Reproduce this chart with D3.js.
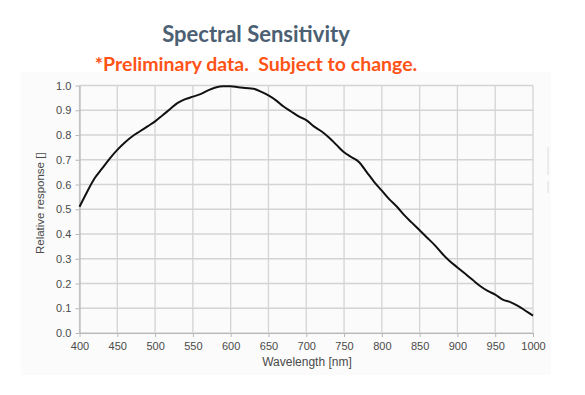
<!DOCTYPE html>
<html><head><meta charset="utf-8">
<script src="https://cdn.jsdelivr.net/npm/d3@7"></script>
<style>body{margin:0;background:#fff;}svg{display:block;}</style>
</head><body>
<script>
const title = "Spectral Sensitivity";
const subtitle = "*Preliminary data.  Subject to change.";
const xLabel = "Wavelength [nm]";
const yLabel = "Relative response []";
const wavelengths = [400,410,420,430,440,450,460,470,480,490,500,510,520,530,540,550,560,570,580,590,600,610,620,630,640,650,660,670,680,690,700,710,720,730,740,750,760,770,780,790,800,810,820,830,840,850,860,870,880,890,900,910,920,930,940,950,960,970,980,990,1000];
const response = [0.51,0.57,0.625,0.665,0.705,0.74,0.77,0.795,0.815,0.835,0.855,0.88,0.905,0.93,0.945,0.955,0.965,0.98,0.992,0.997,0.997,0.993,0.99,0.987,0.975,0.96,0.94,0.915,0.895,0.875,0.86,0.835,0.815,0.79,0.76,0.73,0.71,0.69,0.65,0.61,0.575,0.54,0.51,0.475,0.445,0.415,0.385,0.355,0.32,0.29,0.265,0.24,0.215,0.19,0.17,0.155,0.135,0.125,0.11,0.09,0.07];
const xTicks = [400,450,500,550,600,650,700,750,800,850,900,950,1000];
const yTicks = [0,0.1,0.2,0.3,0.4,0.5,0.6,0.7,0.8,0.9,1.0];

const W = 585, H = 395;
const svg = d3.select("body").append("svg").attr("width", W).attr("height", H);

// faint panel behind the chart image
svg.append("rect").attr("x", 21).attr("y", 72).attr("width", 530).attr("height", 303).attr("fill", "#fbfbfb");
svg.append("rect").attr("x", 547).attr("y", 147).attr("width", 2).attr("height", 28).attr("fill", "#ececec");
svg.append("rect").attr("x", 547).attr("y", 181).attr("width", 2).attr("height", 12).attr("fill", "#ececec");

svg.append("text").attr("x", 256).attr("y", 42).attr("text-anchor", "middle")
  .attr("font-family", "Lato, 'Open Sans', sans-serif").attr("font-weight", "bold")
  .attr("font-size", 22).attr("fill", "#4b6072").text(title);
svg.append("text").attr("x", 256).attr("y", 71).attr("text-anchor", "middle")
  .attr("font-family", "Lato, 'Open Sans', sans-serif").attr("font-weight", "bold")
  .attr("font-size", 19.5).attr("fill", "#ff5317").attr("xml:space", "preserve")
  .style("white-space", "pre").text(subtitle);

const x = d3.scaleLinear().domain([400, 1000]).range([79.5, 533]);
const y = d3.scaleLinear().domain([0, 1]).range([333, 85.5]);

const grid = svg.append("g");
grid.selectAll("line.v").data(xTicks).join("line")
  .attr("x1", d => x(d)).attr("x2", d => x(d)).attr("y1", y(1)).attr("y2", y(0))
  .attr("stroke", "#d4d4d4").attr("stroke-width", 1.3);
grid.selectAll("line.h").data(yTicks).join("line")
  .attr("x1", x(400)).attr("x2", x(1000)).attr("y1", d => y(d)).attr("y2", d => y(d))
  .attr("stroke", "#d4d4d4").attr("stroke-width", 1.3);

const fmt = d3.format(".1f");
const xAxis = svg.append("g").attr("transform", `translate(0,${y(0)})`)
  .call(d3.axisBottom(x).tickValues(xTicks).tickFormat(d3.format("d")).tickSize(4).tickSizeOuter(0));
const yAxis = svg.append("g").attr("transform", `translate(${x(400)},0)`)
  .call(d3.axisLeft(y).tickValues(yTicks).tickFormat(fmt).tickSize(4).tickSizeOuter(0));
[xAxis, yAxis].forEach(a => {
  a.select(".domain").attr("stroke", "#b8b8b8").attr("stroke-width", 1.2);
  a.selectAll(".tick line").attr("stroke", "#b8b8b8");
  a.selectAll("text").attr("font-family", "Liberation Sans, Arial, sans-serif")
    .attr("font-size", 11).attr("fill", "#4a4a4a");
});
xAxis.selectAll("text").attr("dy", "0.9em");
yAxis.selectAll("text").attr("dx", "-0.1em");

svg.append("text").attr("x", 307).attr("y", 366).attr("text-anchor", "middle")
  .attr("font-family", "Liberation Sans, Arial, sans-serif").attr("font-size", 12).attr("fill", "#4a4a4a").text(xLabel);
svg.append("text").attr("transform", `translate(44,${(y(0)+y(1))/2 - 6}) rotate(-90)`).attr("text-anchor", "middle")
  .attr("font-family", "Liberation Sans, Arial, sans-serif").attr("font-size", 11.5).attr("fill", "#4a4a4a").text(yLabel);

const line = d3.line().x((d, i) => x(wavelengths[i])).y(d => y(d)).curve(d3.curveMonotoneX);
svg.append("path").datum(response).attr("d", line).attr("fill", "none")
  .attr("stroke", "#111").attr("stroke-width", 2);
</script>
</body></html>
